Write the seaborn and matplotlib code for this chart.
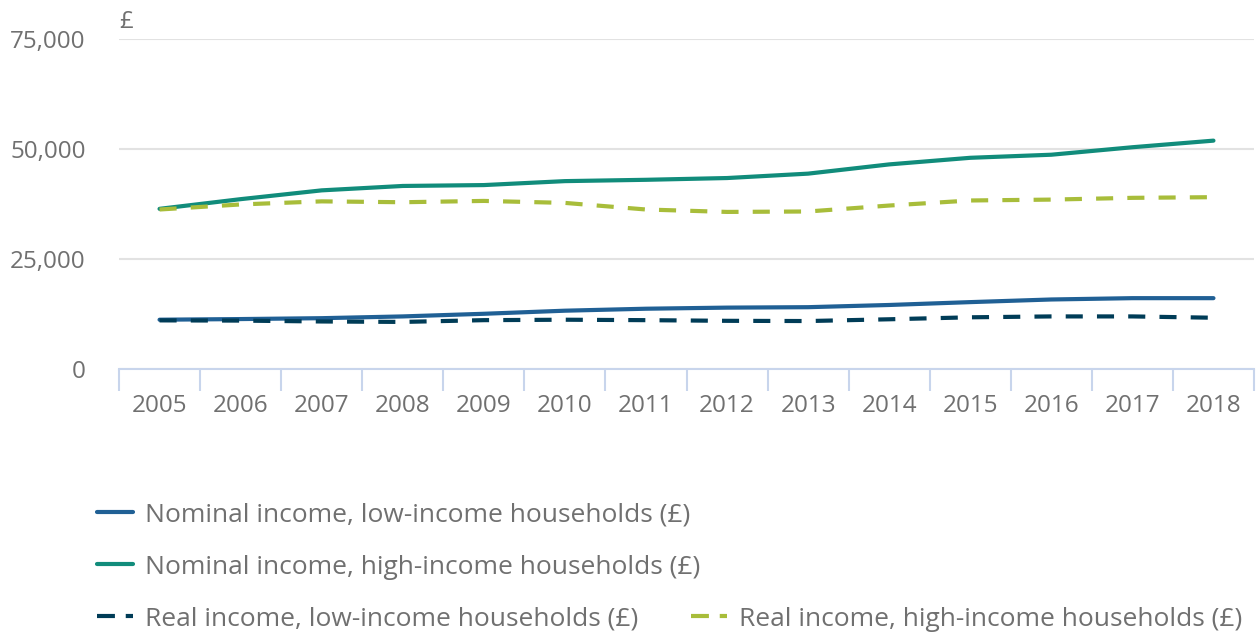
import numpy as np
import pandas as pd
import matplotlib
matplotlib.use("Agg")
import matplotlib.pyplot as plt
from matplotlib.lines import Line2D
import seaborn as sns

years = [2005, 2006, 2007, 2008, 2009, 2010, 2011, 2012, 2013, 2014, 2015, 2016, 2017, 2018]
nominal_low = [11200, 11350, 11550, 11950, 12550, 13250, 13700, 13950, 14050, 14550, 15200, 15800, 16100, 16100]
nominal_high = [36400, 38600, 40600, 41600, 41800, 42700, 43000, 43400, 44400, 46500, 48000, 48700, 50400, 51900]
real_low = [11050, 11000, 10800, 10700, 11100, 11200, 11100, 10950, 10900, 11300, 11750, 11950, 11950, 11650]
real_high = [36250, 37400, 38100, 37900, 38200, 37750, 36250, 35700, 35800, 37150, 38300, 38500, 38900, 39050]

labels = [
    "Nominal income, low-income households (£)",
    "Nominal income, high-income households (£)",
    "Real income, low-income households (£)",
    "Real income, high-income households (£)",
]
colors = ["#206095", "#118c7b", "#003c57", "#a8bd3a"]
dashed = [False, False, True, True]
series = [nominal_low, nominal_high, real_low, real_high]

sns.set_theme(style="white")
plt.rcParams["font.family"] = ["Open Sans", "DejaVu Sans"]
TXT = "#707070"
FS = 17.5
LFS = 19

W, H = 1257, 634
fig = plt.figure(figsize=(W / 100, H / 100), dpi=100)
ax = fig.add_axes([119 / W, 1 - 369 / H, (1254 - 119) / W, (369 - 39) / H])

xpos = np.arange(len(years))
handles = []
for vals, lab, col, d in zip(series, labels, colors, dashed):
    df = pd.DataFrame({"x": xpos, "y": vals})
    sns.lineplot(data=df, x="x", y="y", ax=ax, color=col, linewidth=3, legend=False)
    ln = ax.lines[-1]
    if d:
        ln.set_dashes((4.1, 3.4))
    h = Line2D([0], [0], color=col, linewidth=3)
    if d:
        h.set_dashes((4.3, 2.6))
    handles.append(h)

ax.set_xlim(-0.5, len(years) - 0.5)
ax.set_ylim(0, 75000)
ax.set_yticks([0, 25000, 50000, 75000])
ax.set_yticklabels([f"{v:,}" for v in [0, 25000, 50000, 75000]])
ax.set_xticks(xpos)
ax.set_xticklabels([str(y) for y in years])
ax.set_xticks(np.arange(-0.5, len(years)), minor=True)
ax.set_xlabel("")
ax.set_ylabel("")

ax.grid(axis="y", color="#e2e2e2", linewidth=1.5)
ax.grid(axis="x", visible=False)
ax.set_axisbelow(True)
for s in ["top", "right", "left"]:
    ax.spines[s].set_visible(False)
ax.spines["bottom"].set_color("#c8d5ec")
ax.spines["bottom"].set_linewidth(1.5)

ax.tick_params(axis="x", which="major", length=0, pad=18, labelsize=FS, labelcolor=TXT)
ax.tick_params(axis="x", which="minor", length=16, width=1.5, color="#c8d5ec", bottom=True)
ax.tick_params(axis="y", length=0, pad=24, labelsize=FS, labelcolor=TXT)

ax.text(0.0, 1.015, "£", transform=ax.transAxes, ha="left", va="bottom",
        fontsize=FS, color=TXT)

legend_pos = [(97, 515), (97, 567), (97, 619), (691, 619)]
for h, lab, (px, py) in zip(handles, labels, legend_pos):
    fig.legend([h], [lab], loc="center left", bbox_to_anchor=(px / W, 1 - py / H),
               frameon=False, fontsize=LFS, labelcolor=TXT, handlelength=1.38,
               handletextpad=0.45, borderpad=0, borderaxespad=0)

fig.savefig("out.png", dpi=100)
